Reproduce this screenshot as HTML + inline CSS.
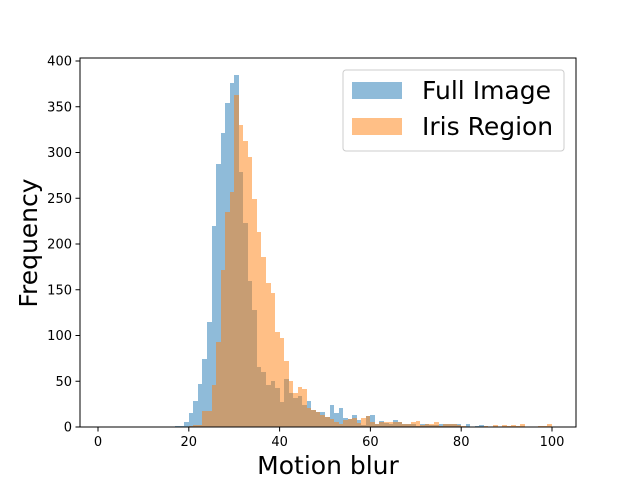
<!DOCTYPE html>
<html><head><meta charset="utf-8"><style>
body{margin:0;background:#fff;width:640px;height:480px;overflow:hidden}
svg{font-family:"DejaVu Sans","Liberation Sans",sans-serif}
</style></head><body>
<svg id="chart" width="640" height="480" viewBox="0 0 640 480">
<rect x="80" y="58" width="496" height="369" fill="#fff"/>
<g id="bars-blue" shape-rendering="crispEdges"></g>
<g id="bars-orange" shape-rendering="crispEdges"></g>
<rect x="80" y="58" width="496" height="369" fill="none" stroke="#000" stroke-width="1"/>
<g id="xticks"></g>
<g id="yticks"></g>
<text x="328" y="474" font-size="25" text-anchor="middle">Motion blur</text>
<text transform="translate(37,243) rotate(-90)" font-size="25" text-anchor="middle">Frequency</text>
<g>
<rect x="343" y="70" width="221" height="81" rx="3" fill="#fff" fill-opacity="0.8" stroke="#ccc"/>
<rect x="352" y="82" width="50" height="17" fill="#1f77b4" fill-opacity="0.5"/>
<text x="422" y="99" font-size="25">Full Image</text>
<rect x="352" y="118" width="50" height="17" fill="#ff7f0e" fill-opacity="0.5"/>
<text x="422" y="135" font-size="25">Iris Region</text>
</g>
</svg>
<script>
// bin start values (width 1)
const binStart = 17;
const fullImage = [1,1,5,15,28,47,74,115,220,287,321,354,376,385,279,223,160,128,66,60,46,50,43,27,53,37,32,34,24,28,19,16,16,11,24,15,21,10,9,13,8,2,12,13,3,7,4,3,8,5,3,3,3,1,3,3,2,2,3,3,3,3,3,0,3,0,1,2,0,0,0,0,0,0,0,0,0,0,0,0,0,0,0,0];
const irisRegion = [0,0,0,1,2,2,17,17,46,93,172,235,257,363,330,313,295,249,213,186,157,146,104,97,72,50,37,44,41,21,19,16,13,11,9,6,3,8,9,10,4,10,12,6,3,5,5,5,5,5,3,3,6,7,2,3,3,6,1,3,3,3,2,1,0,0,0,0,1,0,2,0,2,1,2,1,3,0,0,0,1,1,3];
const xTicks = [0,20,40,60,80,100];
const yTicks = [0,50,100,150,200,250,300,350,400];
const NS='http://www.w3.org/2000/svg';
function xs(v){return 98+v*4.54;}
function ys(v){return 427-v*0.915;}
function drawBars(gid,data,color){
  const g=document.getElementById(gid);
  data.forEach((v,i)=>{
    if(!v) return;
    const r=document.createElementNS(NS,'rect');
    const x0=Math.round(xs(binStart+i)), x1=Math.round(xs(binStart+i+1));
    const y0=Math.round(ys(v));
    r.setAttribute('x',x0);r.setAttribute('width',x1-x0);
    r.setAttribute('y',y0);r.setAttribute('height',427-y0);
    r.setAttribute('fill',color);r.setAttribute('fill-opacity','0.5');
    
    
    g.appendChild(r);
  });
}
drawBars('bars-blue',fullImage,'#1f77b4');
drawBars('bars-orange',irisRegion,'#ff7f0e');
const xg=document.getElementById('xticks');
xTicks.forEach(t=>{
  const l=document.createElementNS(NS,'line');
  l.setAttribute('x1',xs(t));l.setAttribute('x2',xs(t));l.setAttribute('y1',427);l.setAttribute('y2',431.5);l.setAttribute('stroke','#000');
  
  
  xg.appendChild(l);
  const tx=document.createElementNS(NS,'text');
  tx.setAttribute('x',xs(t));tx.setAttribute('y',446);tx.setAttribute('font-size','13');tx.setAttribute('text-anchor','middle');
  tx.textContent=t;
  
  
  xg.appendChild(tx);
});
const yg=document.getElementById('yticks');
yTicks.forEach(t=>{
  const l=document.createElementNS(NS,'line');
  l.setAttribute('x1',75.5);l.setAttribute('x2',80);l.setAttribute('y1',ys(t));l.setAttribute('y2',ys(t));l.setAttribute('stroke','#000');
  
  
  yg.appendChild(l);
  const tx=document.createElementNS(NS,'text');
  tx.setAttribute('x',72);tx.setAttribute('y',ys(t)+4.5);tx.setAttribute('font-size','13');tx.setAttribute('text-anchor','end');
  tx.textContent=t;
  
  
  yg.appendChild(tx);
});
</script>
</body></html>
